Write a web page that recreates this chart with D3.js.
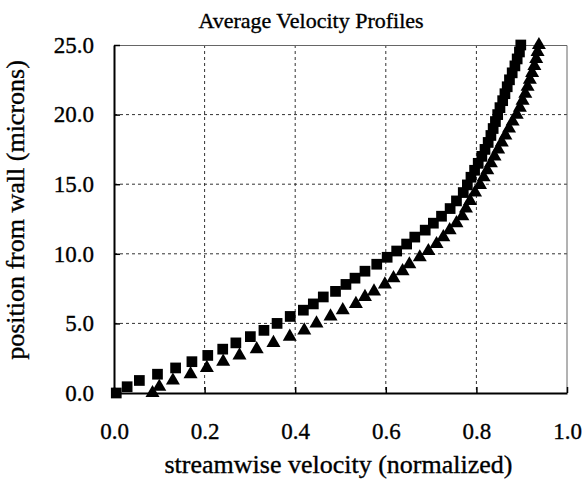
<!DOCTYPE html>
<html>
<head>
<meta charset="utf-8">
<script src="https://cdn.jsdelivr.net/npm/d3@7"></script>
<style>
  body { margin: 0; background: #fff; }
  text { font-family: "Liberation Serif", "Times New Roman", serif; fill: #000; stroke: #000; stroke-width: 0.35px; }
</style>
</head>
<body>
<div id="chart"></div>
<script>
// distance from wall (microns), shared by both profiles
var wallPos = [0, 0.45, 0.9, 1.35, 1.8, 2.25, 2.7, 3.15, 3.6, 4.05, 4.5, 5.0, 5.5, 5.95, 6.4, 6.9,
    7.3, 7.8, 8.25, 8.75, 9.25, 9.75, 10.2, 10.7, 11.2, 11.7, 12.2, 12.7, 13.25, 13.8, 14.4, 14.95,
    15.5, 16.0, 16.5, 17.0, 17.5, 18.0, 18.5, 19.0, 19.5, 20.0, 20.5, 21.0, 21.5, 22.0, 22.5, 23.0,
    23.5, 24.0, 24.5, 25.0];

// normalized streamwise velocity, square markers
var squareVel = [0.005, 0.029, 0.056, 0.096, 0.136, 0.172, 0.207, 0.240, 0.269, 0.301, 0.331, 0.360,
    0.389, 0.418, 0.440, 0.462, 0.489, 0.512, 0.532, 0.554, 0.580, 0.603, 0.624, 0.646, 0.664, 0.687,
    0.705, 0.723, 0.742, 0.756, 0.771, 0.780, 0.788, 0.796, 0.804, 0.812, 0.819, 0.826, 0.832, 0.837,
    0.842, 0.847, 0.852, 0.858, 0.863, 0.868, 0.873, 0.879, 0.885, 0.890, 0.895, 0.898];

// normalized streamwise velocity, triangle markers
var triangleVel = [0.085, 0.100, 0.130, 0.169, 0.205, 0.241, 0.277, 0.315, 0.352, 0.388, 0.420, 0.447,
    0.478, 0.505, 0.534, 0.554, 0.574, 0.598, 0.617, 0.637, 0.652, 0.675, 0.694, 0.712, 0.727, 0.741,
    0.756, 0.769, 0.777, 0.786, 0.797, 0.808, 0.816, 0.824, 0.832, 0.840, 0.848, 0.856, 0.864, 0.872,
    0.880, 0.889, 0.896, 0.902, 0.908, 0.913, 0.918, 0.923, 0.928, 0.932, 0.935, 0.938];

var xTicks = [0, 0.2, 0.4, 0.6, 0.8, 1.0];
var yTicks = [0, 5, 10, 15, 20, 25];

var titleText = "Average Velocity Profiles";
var xTitle = "streamwise velocity (normalized)";
var yTitle = "position from wall (microns)";

var margin = { top: 45, right: 17, bottom: 88, left: 114 };
var canvas = { screenWidth: 584, screenHeight: 481, chartWidth: 0, chartHeight: 0 };

var chartGroup, xScale, yScale;

function setCanvas() {
    canvas.chartWidth = canvas.screenWidth - margin.left - margin.right;
    canvas.chartHeight = canvas.screenHeight - margin.top - margin.bottom;

    var svg = d3.select("#chart").append("svg")
        .attr("width", canvas.screenWidth)
        .attr("height", canvas.screenHeight);

    svg.append("rect")
        .attr("width", canvas.screenWidth)
        .attr("height", canvas.screenHeight)
        .attr("fill", "#fff");

    chartGroup = svg.append("g")
        .attr("transform", `translate(${margin.left}, ${margin.top})`);
}

function setAxis() {
    xScale = d3.scaleLinear().domain([0, 1]).range([0, canvas.chartWidth]);
    yScale = d3.scaleLinear().domain([0, 25]).range([canvas.chartHeight, 0]);

    // dashed grid
    chartGroup.append("g").selectAll("line")
        .data(xTicks.slice(1, -1))
        .enter().append("line")
        .attr("x1", d => xScale(d)).attr("x2", d => xScale(d))
        .attr("y1", 0).attr("y2", canvas.chartHeight)
        .attr("stroke", "#333").attr("stroke-width", 1).attr("stroke-dasharray", "3,3");

    chartGroup.append("g").selectAll("line")
        .data(yTicks.slice(1, -1))
        .enter().append("line")
        .attr("x1", 0).attr("x2", canvas.chartWidth)
        .attr("y1", d => yScale(d)).attr("y2", d => yScale(d))
        .attr("stroke", "#333").attr("stroke-width", 1).attr("stroke-dasharray", "3,3");

    // thin frame on top and right
    chartGroup.append("path")
        .attr("d", `M0,0.5H${canvas.chartWidth}V${canvas.chartHeight}`)
        .attr("fill", "none").attr("stroke", "#666").attr("stroke-width", 1);

    var xAxis = d3.axisBottom(xScale)
        .tickValues(xTicks)
        .tickFormat(d3.format(".1f"))
        .tickSizeInner(-6).tickSizeOuter(0).tickPadding(30);

    var yAxis = d3.axisLeft(yScale)
        .tickValues(yTicks)
        .tickFormat(d3.format(".1f"))
        .tickSizeInner(-6).tickSizeOuter(0).tickPadding(20);

    var gx = chartGroup.append("g")
        .attr("transform", `translate(0, ${canvas.chartHeight})`)
        .call(xAxis);
    var gy = chartGroup.append("g").call(yAxis);

    [gx, gy].forEach(function (g) {
        g.select(".domain").attr("stroke", "#000").attr("stroke-width", 2);
        g.selectAll(".tick line").attr("stroke", "#000").attr("stroke-width", 1.5);
        g.selectAll(".tick text").attr("font-size", 23).attr("font-family", "Liberation Serif");
    });

    // titles
    d3.select("svg").append("text")
        .attr("x", 311).attr("y", 28)
        .attr("text-anchor", "middle")
        .attr("font-size", 22)
        .text(titleText);

    d3.select("svg").append("text")
        .attr("x", margin.left + canvas.chartWidth / 2 - 2).attr("y", 473)
        .attr("text-anchor", "middle")
        .attr("font-size", 26)
        .text(xTitle);

    d3.select("svg").append("text")
        .attr("transform", "translate(24, 210) rotate(-90)")
        .attr("text-anchor", "middle")
        .attr("font-size", 26)
        .text(yTitle);
}

function createChart() {
    var squares = wallPos.map((y, i) => ({ x: squareVel[i], y: y }));
    var triangles = wallPos.map((y, i) => ({ x: triangleVel[i], y: y }));

    chartGroup.append("g").selectAll("path")
        .data(squares)
        .enter().append("path")
        .attr("d", d3.symbol().type(d3.symbolSquare).size(115))
        .attr("transform", d => `translate(${xScale(d.x)}, ${yScale(d.y)})`)
        .attr("fill", "#000");

    chartGroup.append("g").selectAll("path")
        .data(triangles)
        .enter().append("path")
        .attr("d", d3.symbol().type(d3.symbolTriangle).size(85))
        .attr("transform", d => `translate(${xScale(d.x)}, ${yScale(d.y)})`)
        .attr("fill", "#000");
}

setCanvas();
setAxis();
createChart();
</script>
</body>
</html>
